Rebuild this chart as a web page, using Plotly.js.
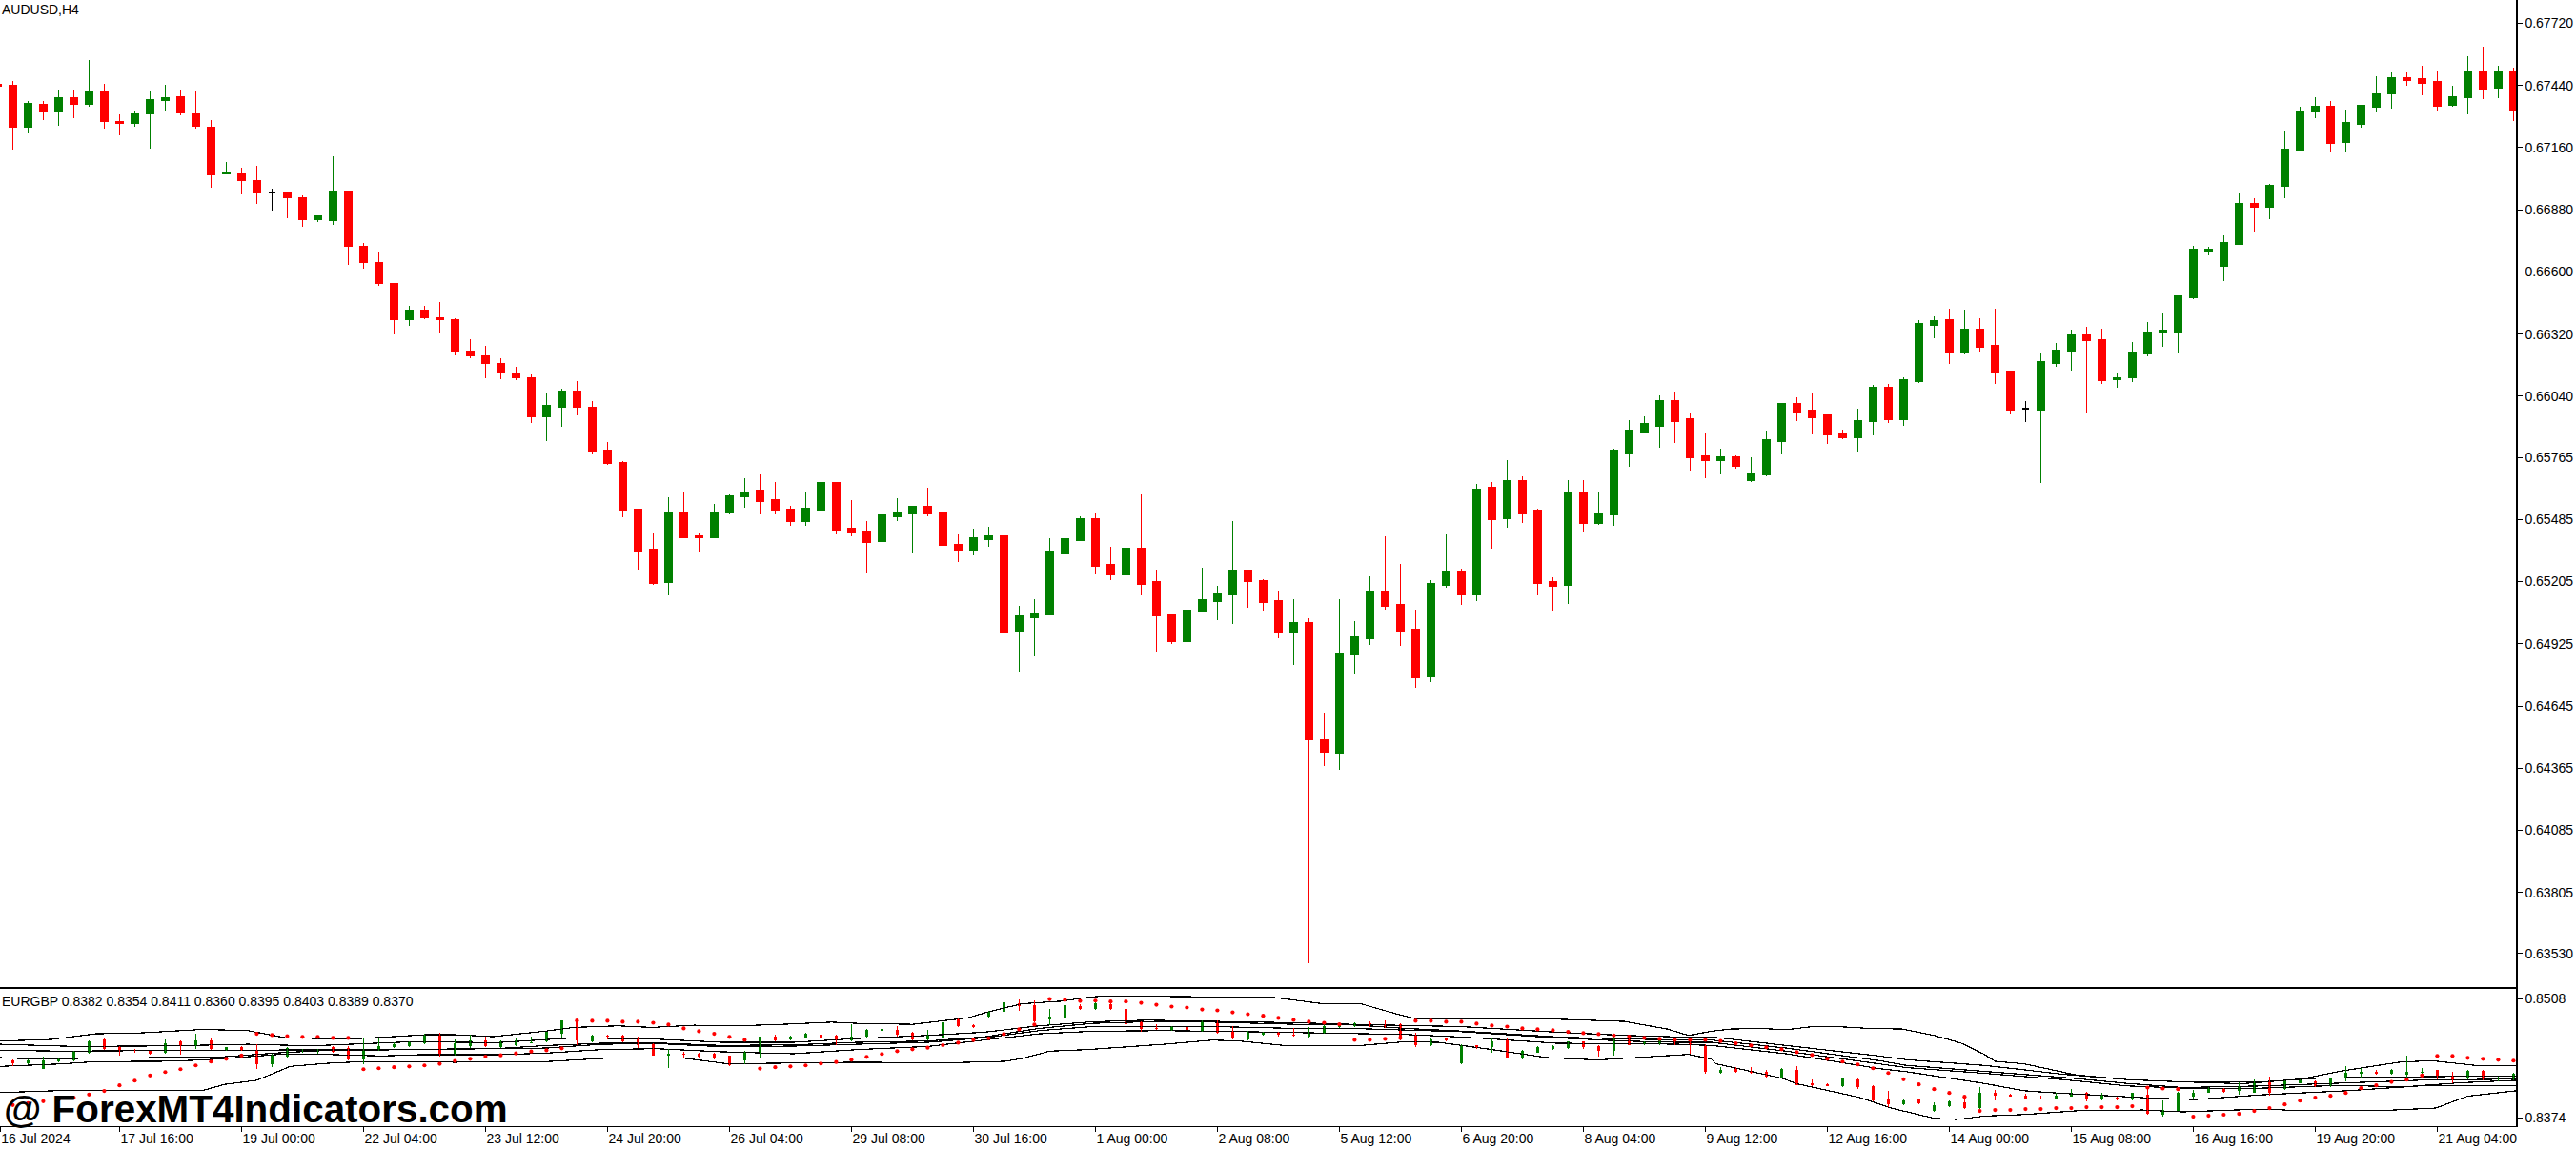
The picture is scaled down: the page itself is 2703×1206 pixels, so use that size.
<!DOCTYPE html>
<html><head><meta charset="utf-8">
<script src="https://cdn.plot.ly/plotly-3.0.1.min.js"></script>
<style>html,body{margin:0;padding:0;background:#fff}#chart{width:2703px;height:1206px}
#chart .scatterlayer .lines path,#chart .boxlayer path,#chart .barlayer path,#chart .ohlclayer path{shape-rendering:crispEdges}</style>
</head><body><div id="chart"></div>
<script>
// AUDUSD H4 candles, bar index -1 .. 164 (R = down, G = up, X = doji)
const mainDirection = "R"+"RGRGRGRRGG"+"GRRRGRRXRR"+"GGRRRRGRRR"+"RRRRRGGRRR"+"RRRGRRGGGR"+"RRGGRRRGGG"+"RRRGGRGGGG"+"GRRGRRRGGG"+"GRRRGRRGGG"+"RRRGGRGRGR"+"RRGRGGGGGR"+"RRGRGGGRRR"+"RGGRGGGRGR"+"RRXGGGRRGG"+"GGGGGGGRGG"+"GGRGGGGRRR"+"GGRGR";
const mainHigh = [.67447,.67460,.67370,.67370,.67422,.67422,.67555,.67446,.67309,.67322,.67412,.67442,.67420,.67412,.67283,.67094,.67068,.67077,.66974,.66961,.66944,.66854,.67121,.66965,.66731,.66686,.66549,.66446,.66446,.66463,.66390,.66296,.66266,.66210,.66171,.66138,.66052,.66074,.66108,.66018,.65834,.65748,.65529,.65426,.65585,.65610,.65426,.65555,.65597,.65670,.65688,.65653,.65546,.65610,.65688,.65653,.65572,.65477,.65516,.65580,.65546,.65628,.65576,.65417,.65443,.65452,.65430,.65095,.65125,.65400,.65563,.65499,.65516,.65361,.65379,.65602,.65258,.65057,.65121,.65267,.65185,.65477,.65258,.65215,.65164,.65125,.65040,.64615,.65125,.65027,.65228,.65409,.65284,.65078,.65211,.65421,.65263,.65645,.65653,.65752,.65679,.65533,.65224,.65662,.65662,.65610,.65803,.65932,.65949,.66044,.66061,.65967,.65872,.65803,.65773,.65765,.65885,.66010,.66035,.66057,.65954,.65889,.65984,.66091,.66095,.66125,.66383,.66400,.66434,.66430,.66391,.66434,.66155,.66018,.66237,.66280,.66340,.66353,.66344,.66143,.66284,.66374,.66413,.66494,.66718,.66713,.66765,.66954,.66932,.66997,.67233,.67344,.67387,.67370,.67331,.67353,.67482,.67499,.67499,.67529,.67503,.67439,.67572,.67615,.67529,.67520];
const mainBodyTop = [.67443,.67442,.67360,.67356,.67386,.67386,.67416,.67416,.67279,.67313,.67377,.67386,.67390,.67313,.67253,.67047,.67043,.67013,.66957,.66957,.66935,.66854,.66965,.66965,.66716,.66643,.66549,.66429,.66429,.66394,.66386,.66244,.66223,.66188,.66141,.66125,.65997,.66061,.66061,.65992,.65799,.65743,.65529,.65349,.65516,.65516,.65409,.65520,.65593,.65610,.65615,.65572,.65529,.65537,.65653,.65653,.65443,.65434,.65503,.65516,.65542,.65542,.65520,.65374,.65400,.65409,.65409,.65048,.65065,.65340,.65396,.65490,.65490,.65284,.65353,.65353,.65203,.65057,.65078,.65121,.65151,.65258,.65258,.65211,.65117,.65022,.65022,.64494,.64881,.64954,.65160,.65160,.65100,.64992,.65194,.65250,.65250,.65623,.65628,.65658,.65658,.65525,.65203,.65606,.65610,.65512,.65795,.65885,.65915,.66018,.66018,.65937,.65769,.65765,.65765,.65692,.65842,.66005,.66005,.65975,.65954,.65872,.65932,.66078,.66078,.66113,.66366,.66379,.66383,.66340,.66340,.66267,.66155,.65984,.66194,.66246,.66314,.66314,.66293,.66125,.66237,.66331,.66336,.66494,.66701,.66701,.66731,.66907,.66907,.66992,.67151,.67323,.67344,.67344,.67271,.67349,.67404,.67473,.67473,.67469,.67456,.67391,.67503,.67503,.67503,.67503];
const mainBodyBottom = [.67439,.67251,.67251,.67320,.67320,.67354,.67354,.67277,.67268,.67268,.67311,.67371,.67316,.67255,.67037,.67041,.67011,.66955,.66957,.66934,.66835,.66835,.66831,.66715,.66642,.66547,.66384,.66384,.66393,.66384,.66243,.66221,.66187,.66144,.66122,.65949,.65949,.65992,.65992,.65795,.65739,.65529,.65344,.65198,.65203,.65404,.65404,.65404,.65520,.65589,.65567,.65529,.65477,.65477,.65529,.65439,.65430,.65383,.65387,.65499,.65512,.65516,.65370,.65349,.65349,.65396,.64979,.64984,.65044,.65061,.65336,.65391,.65276,.65237,.65237,.65194,.65052,.64937,.64937,.65074,.65117,.65147,.65207,.65113,.64979,.64979,.64494,.64439,.64434,.64876,.64949,.65095,.64984,.64773,.64778,.65190,.65147,.65147,.65486,.65490,.65516,.65198,.65185,.65190,.65469,.65469,.65507,.65786,.65881,.65907,.65928,.65765,.65752,.65752,.65726,.65662,.65688,.65838,.65971,.65945,.65868,.65855,.65855,.65928,.65937,.65937,.66108,.66361,.66237,.66237,.66263,.66151,.65979,.65984,.65979,.66190,.66246,.66293,.66113,.66117,.66125,.66233,.66327,.66331,.66486,.66696,.66628,.66726,.66894,.66894,.66988,.67147,.67323,.67181,.67186,.67267,.67344,.67404,.67464,.67452,.67349,.67353,.67387,.67426,.67430,.67327];
const mainLow = [.67439,.67152,.67225,.67285,.67260,.67294,.67346,.67247,.67217,.67255,.67157,.67328,.67307,.67247,.66981,.67041,.66951,.66908,.66878,.66843,.66805,.66826,.66813,.66633,.66616,.66539,.66320,.66358,.66388,.66328,.66225,.66213,.66122,.66118,.66114,.65919,.65838,.65902,.65954,.65778,.65731,.65494,.65258,.65190,.65143,.65404,.65340,.65404,.65512,.65537,.65507,.65512,.65456,.65456,.65507,.65417,.65409,.65246,.65357,.65477,.65336,.65499,.65370,.65293,.65323,.65361,.64829,.64799,.64868,.65061,.65164,.65387,.65241,.65211,.65143,.65143,.64889,.64924,.64868,.65070,.65031,.65014,.65087,.65074,.64949,.64829,.63487,.64374,.64357,.64791,.64919,.65078,.64915,.64726,.64752,.65177,.65100,.65117,.65353,.65447,.65469,.65143,.65074,.65104,.65430,.65460,.65456,.65722,.65872,.65808,.65829,.65705,.65670,.65688,.65713,.65653,.65679,.65778,.65928,.65868,.65825,.65846,.65791,.65864,.65919,.65906,.66100,.66301,.66185,.66228,.66241,.66095,.65958,.65924,.65649,.66173,.66155,.65962,.66095,.66078,.66104,.66220,.66263,.66233,.66477,.66675,.66559,.66726,.66778,.66838,.66932,.67143,.67293,.67138,.67138,.67250,.67319,.67336,.67439,.67396,.67323,.67344,.67310,.67379,.67383,.67280];

// EURGBP sub-window, bar index 0 .. 164
const subDirection = "RGGGGGRRRR"+"GRGRGRRGGG"+"GRRGGGGGRG"+"GRGGGGGRGR"+"RRRGRRRRGG"+"RGGRRGGGRR"+"GGRRGGRRGG"+"RGRRRRGRGR"+"RGGRRGGGGR"+"RRRGRGRGRG"+"GGGRRGRGGR"+"RRGRRRGRRR"+"GRRRGRGGRG"+"RRRRGGRGRG"+"RGGGGRGGRG"+"GRGGGRGGGR"+"RGRGG";
const subHigh = [.84398,.84401,.84426,.84419,.84498,.84612,.84641,.84544,.84512,.84498,.84627,.84609,.84687,.84644,.84541,.84548,.84569,.84462,.84534,.84516,.84516,.84548,.84551,.84644,.84641,.84591,.84598,.84687,.84698,.84627,.84677,.84655,.84612,.84630,.84655,.84712,.84841,.84848,.84677,.84680,.84677,.84652,.84577,.84516,.84484,.84473,.84473,.84444,.84491,.84659,.84677,.84666,.84698,.84694,.84677,.84794,.84741,.84759,.84769,.84712,.84730,.84877,.84855,.84794,.84948,.85055,.85080,.85062,.84973,.85027,.85027,.85055,.85052,.84984,.84830,.84794,.84777,.84784,.84841,.84841,.84769,.84719,.84705,.84705,.84748,.84759,.84812,.84794,.84812,.84830,.84841,.84802,.84698,.84641,.84641,.84566,.84562,.84641,.84634,.84509,.84551,.84562,.84605,.84605,.84562,.84652,.84669,.84598,.84641,.84627,.84634,.84569,.84312,.84312,.84312,.84284,.84301,.84323,.84169,.84133,.84194,.84187,.84105,.84044,.83941,.83948,.83912,.83937,.83991,.84080,.84055,.84008,.84008,.83991,.84026,.84062,.84033,.84026,.83980,.84026,.84062,.83937,.84033,.84051,.84080,.84076,.84141,.84169,.84205,.84162,.84176,.84162,.84198,.84319,.84305,.84276,.84291,.84437,.84305,.84284,.84259,.84284,.84284,.84205,.84248];
const subBodyTop = [.84384,.84384,.84384,.84401,.84484,.84605,.84627,.84537,.84501,.84491,.84580,.84605,.84616,.84616,.84534,.84534,.84509,.84448,.84526,.84505,.84505,.84534,.84526,.84516,.84544,.84569,.84587,.84680,.84680,.84577,.84612,.84616,.84598,.84612,.84591,.84709,.84837,.84841,.84669,.84669,.84669,.84627,.84569,.84462,.84466,.84462,.84459,.84437,.84473,.84652,.84659,.84659,.84687,.84680,.84662,.84659,.84730,.84741,.84734,.84694,.84669,.84819,.84848,.84787,.84934,.85048,.85034,.85009,.84884,.85009,.85005,.85034,.85027,.84973,.84812,.84755,.84769,.84777,.84823,.84827,.84705,.84705,.84698,.84698,.84680,.84712,.84777,.84787,.84802,.84802,.84798,.84791,.84669,.84627,.84630,.84559,.84555,.84605,.84627,.84491,.84537,.84544,.84598,.84598,.84551,.84627,.84627,.84591,.84616,.84619,.84580,.84562,.84284,.84291,.84269,.84255,.84294,.84276,.84133,.84123,.84187,.84176,.84091,.83948,.83930,.83941,.83876,.83926,.83912,.84019,.84026,.84001,.83991,.83976,.83991,.84023,.84023,.83991,.83969,.84016,.83998,.83826,.84026,.84019,.84069,.84062,.84091,.84151,.84151,.84151,.84158,.84151,.84194,.84248,.84255,.84259,.84276,.84259,.84262,.84276,.84212,.84269,.84269,.84187,.84241];
const subBodyBottom = [.84355,.84355,.84294,.84373,.84391,.84473,.84516,.84491,.84491,.84462,.84473,.84555,.84562,.84516,.84505,.84505,.84348,.84348,.84426,.84484,.84480,.84484,.84401,.84401,.84509,.84534,.84548,.84577,.84455,.84455,.84551,.84544,.84541,.84562,.84584,.84598,.84687,.84616,.84598,.84652,.84605,.84555,.84437,.84437,.84455,.84434,.84419,.84337,.84384,.84473,.84616,.84627,.84641,.84644,.84616,.84616,.84655,.84716,.84677,.84627,.84623,.84641,.84777,.84759,.84884,.84941,.84998,.84830,.84848,.84855,.84973,.84973,.84973,.84794,.84741,.84741,.84727,.84719,.84712,.84698,.84634,.84627,.84677,.84677,.84669,.84655,.84698,.84759,.84777,.84769,.84769,.84641,.84562,.84555,.84612,.84355,.84534,.84534,.84419,.84419,.84476,.84516,.84526,.84534,.84491,.84498,.84562,.84569,.84569,.84569,.84569,.84255,.84248,.84255,.84248,.84205,.84198,.84112,.84108,.84098,.84098,.84080,.83937,.83894,.83890,.83905,.83819,.83869,.83848,.83848,.83991,.83980,.83955,.83973,.83948,.83980,.83948,.83948,.83944,.83948,.83783,.83769,.83815,.83983,.84019,.84033,.84041,.84026,.84019,.84069,.84133,.84098,.84098,.84183,.84241,.84234,.84234,.84223,.84248,.84212,.84169,.84183,.84169,.84176,.84169];
const subLow = [.84326,.84348,.84287,.84366,.84376,.84462,.84501,.84437,.84473,.84448,.84462,.84448,.84516,.84509,.84498,.84491,.84291,.84312,.84419,.84473,.84466,.84473,.84384,.84348,.84491,.84526,.84541,.84569,.84434,.84441,.84526,.84534,.84526,.84544,.84584,.84591,.84634,.84555,.84591,.84627,.84591,.84526,.84437,.84305,.84419,.84412,.84401,.84319,.84348,.84419,.84598,.84612,.84634,.84605,.84562,.84605,.84641,.84712,.84652,.84612,.84612,.84627,.84759,.84748,.84873,.84927,.84948,.84812,.84784,.84841,.84955,.84962,.84955,.84787,.84712,.84727,.84719,.84712,.84712,.84687,.84623,.84616,.84662,.84655,.84652,.84641,.84687,.84748,.84766,.84759,.84748,.84616,.84537,.84544,.84598,.84341,.84519,.84473,.84409,.84398,.84469,.84505,.84516,.84519,.84426,.84437,.84555,.84555,.84562,.84555,.84462,.84241,.84241,.84248,.84241,.84183,.84187,.84105,.84091,.84091,.84087,.84069,.83926,.83855,.83876,.83890,.83808,.83862,.83840,.83837,.83937,.83973,.83948,.83948,.83941,.83973,.83926,.83937,.83937,.83937,.83769,.83755,.83812,.83955,.84016,.84019,.83998,.84016,.83991,.84055,.84126,.84087,.84087,.84148,.84183,.84223,.84223,.84151,.84234,.84169,.84133,.84169,.84162,.84151,.84162];
const subDots = [.83883,.83905,.83926,.83944,.83966,.84001,.84041,.84105,.84158,.84216,.84255,.84287,.84330,.84373,.84405,.84441,.84687,.84673,.84659,.84652,.84652,.84641,.84641,.84287,.84298,.84309,.84319,.84330,.84348,.84380,.84405,.84430,.84444,.84466,.84487,.84501,.84523,.84837,.84834,.84834,.84823,.84823,.84812,.84791,.84748,.84716,.84687,.84652,.84619,.84294,.84309,.84319,.84330,.84351,.84369,.84394,.84426,.84459,.84491,.84512,.84530,.84559,.84587,.84616,.84637,.84684,.84737,.84791,.85080,.85070,.85059,.85062,.85052,.85052,.85037,.85016,.84995,.84984,.84962,.84952,.84930,.84909,.84891,.84866,.84844,.84823,.84812,.84794,.84619,.84619,.84630,.84641,.84834,.84834,.84823,.84823,.84802,.84780,.84769,.84748,.84737,.84727,.84709,.84694,.84684,.84669,.84655,.84641,.84630,.84619,.84619,.84619,.84605,.84580,.84555,.84534,.84512,.84480,.84448,.84405,.84373,.84341,.84298,.84244,.84173,.84116,.84062,.84019,.83976,.83815,.83826,.83826,.83837,.83837,.83848,.83848,.83858,.83858,.83858,.83869,.84080,.84069,.84062,.83751,.83762,.83773,.83783,.83815,.83848,.83890,.83933,.83966,.83987,.84019,.84073,.84105,.84144,.84169,.84216,.84437,.84437,.84416,.84405,.84394,.84384];

// Sub-window envelope lines: bar positions and levels read at their bends
const upperBandBar = [-0.84,2.5,5.4,8.5,12.5,15.4,17.1,17.9,22.1,27.1,29,31.5,35,36.8,39.7,41.9,44.7,47.6,50.5,53.7,55.4,59,62.6,64,66.2,68.7,70.8,71.9,74,82.7,85.9,88.4,90.6,92,94.9,101.3,105.7,108.5,109.9,111.4,112.7,114.5,116.3,118.1,119.6,121.7,123.9,126,127.8,129.3,130,131.9,135.3,138.7,142.3,146.2,150.1,152.7,156.5,158.6,161.5,164.2];
const upperBandLevel = [.84605,.84623,.84687,.84698,.84737,.84723,.84669,.84641,.84627,.84677,.84677,.84655,.84719,.84759,.84777,.84759,.84784,.84777,.84794,.84819,.84805,.84794,.84866,.84937,.85027,.85055,.85105,.85116,.85112,.85098,.85027,.85027,.84919,.84859,.84859,.84852,.84827,.84741,.84669,.84716,.84741,.84748,.84734,.84769,.84769,.84748,.84741,.84669,.84580,.84455,.84376,.84348,.84223,.84169,.84144,.84123,.84176,.84266,.84366,.84384,.84330,.84330];
const lowerBandBar = [-0.84,2.75,7,12.4,13.9,16,17.1,18.2,20.7,23,29,35,39,44,46.9,55.4,61.2,65.1,66.2,68,70.5,75.5,78.7,80.5,83.4,88.4,91.3,93.5,97,100.6,103.9,107.5,109.9,111.4,111.7,116,117,121,123.2,126,127.5,129.3,132,135.8,139.7,142.3,147.5,150,155.2,158.9,161,164.2];
const lowerBandLevel = [.84023,.84044,.84044,.84044,.84116,.84162,.84241,.84319,.84355,.84373,.84366,.84373,.84412,.84412,.84348,.84366,.84359,.84376,.84409,.84491,.84509,.84569,.84616,.84605,.84555,.84555,.84598,.84591,.84509,.84419,.84391,.84426,.84455,.84401,.84348,.84187,.84123,.83973,.83848,.83733,.83719,.83758,.83776,.83823,.83826,.83805,.83837,.83819,.83819,.83848,.83983,.84044];
const innerABar = [-0.84,.41,4.16,10.4,15.4,19.6,26.2,31.7,35,36.8,42.2,46.5,51.2,55.4,60,63.7,67.3,70.8,74.4,78.7,84.1,87.7,91.3,94.9,101.3,105.7,109.2,111.4,116.3,122.4,124.2,129.3,134.5,138.7,142.3,147.5,151.4,155.2,164.2];
const innerALevel = [.84569,.84562,.84544,.84551,.84569,.84551,.84598,.84587,.84627,.84641,.84627,.84591,.84591,.84634,.84669,.84705,.84777,.84823,.84841,.84830,.84812,.84794,.84784,.84769,.84705,.84669,.84652,.84652,.84555,.84437,.84394,.84330,.84230,.84169,.84144,.84144,.84187,.84198,.84212];
const innerBBar = [-0.84,3.3,9.6,13.7,20,24.2,31.7,35,38.6,42.2,46.5,51.2,55.4,60,63.7,67.3,70.8,74.4,78.7,84.1,87.7,91.3,94.9,101.3,105.7,109.2,111.4,116.3,122.4,124.2,129.3,134.5,138.7,142.3,147.5,152.7,157.8,164.2];
const innerBLevel = [.84501,.84491,.84498,.84501,.84498,.84509,.84519,.84555,.84580,.84584,.84555,.84562,.84591,.84605,.84652,.84748,.84805,.84823,.84819,.84794,.84791,.84748,.84719,.84652,.84627,.84616,.84616,.84526,.84384,.84330,.84266,.84194,.84126,.84080,.84098,.84133,.84162,.84176];
const innerCBar = [-0.84,1.2,5.4,9.6,13.7,17.5,20.4,26.2,31.7,35,38.6,42.2,46.5,51.2,55.4,60,63.7,67.3,70.8,78.7,84.1,87.7,91.3,94.9,101.3,105.7,109.2,111.4,116.3,122.4,124.2,129.3,134.5,138.7,142.3,147.5,152.7,156.8,160.4,164.2];
const innerCLevel = [.84419,.84401,.84412,.84419,.84426,.84473,.84498,.84509,.84519,.84526,.84569,.84577,.84541,.84548,.84569,.84591,.84641,.84723,.84769,.84769,.84748,.84748,.84730,.84712,.84641,.84605,.84591,.84591,.84491,.84348,.84305,.84241,.84169,.84098,.84073,.84073,.84105,.84087,.84133,.84162];
const innerDBar = [-0.84,3.3,5.4,9.6,12.5,15,17.5,20.4,24.2,26.7,31.7,35,38.6,42.2,46.5,51.2,55.4,60,63.7,67.3,70.8,75.5,80.5,85.9,91.3,94.9,101.3,105.7,109.2,111.4,116.3,122.4,124.2,129.3,131.9,134,139.7,143.1,147.5,153.1,157.8,164.2];
const innerDLevel = [.84319,.84348,.84373,.84376,.84391,.84426,.84455,.84455,.84437,.84451,.84451,.84469,.84509,.84519,.84484,.84462,.84509,.84544,.84616,.84687,.84716,.84723,.84712,.84694,.84680,.84652,.84580,.84577,.84569,.84555,.84462,.84294,.84259,.84126,.84044,.84019,.83966,.83944,.83998,.84044,.84098,.84105];

// Axis labels
const priceTickValues = [.67720,.67440,.67160,.66880,.66600,.66320,.66040,.65765,.65485,.65205,.64925,.64645,.64365,.64085,.63805,.63530];
const priceTickLabels = ["0.67720","0.67440","0.67160","0.66880","0.66600","0.66320","0.66040","0.65765","0.65485","0.65205","0.64925","0.64645","0.64365","0.64085","0.63805","0.63530"];
const subTickValues = [.8508,.8374];
const subTickLabels = ["0.8508","0.8374"];
const dateLabels = ["16 Jul 2024","17 Jul 16:00","19 Jul 00:00","22 Jul 04:00","23 Jul 12:00","24 Jul 20:00","26 Jul 04:00","29 Jul 08:00","30 Jul 16:00","1 Aug 00:00","2 Aug 08:00","5 Aug 12:00","6 Aug 20:00","8 Aug 04:00","9 Aug 12:00","12 Aug 16:00","14 Aug 00:00","15 Aug 08:00","16 Aug 16:00","19 Aug 20:00","21 Aug 04:00"];
// The first label's bar (-1) sits just off the left edge, so its tick is held at the edge.
const dateTickBars = dateLabels.map((_, k) => k === 0 ? -0.83 : -1 + 8 * k);

const GREEN = '#008000', RED = '#ff0000';
const W = 2703, H = 1206;
const FONT = '"Liberation Sans", Arial, sans-serif';

const mainX = Array.from(mainHigh, (_, k) => k - 1);
const mainOpen = mainX.map((_, k) => mainDirection[k] === 'G' ? mainBodyBottom[k] : mainBodyTop[k]);
const mainClose = mainX.map((_, k) => mainDirection[k] === 'G' ? mainBodyTop[k] : mainBodyBottom[k]);
const notDoji = a => a.map((v, k) => mainDirection[k] === 'X' ? null : v);
const onlyDoji = a => a.map((v, k) => mainDirection[k] === 'X' ? v : null);

const candleStyle = (up, down) => ({
  increasing: {line: {color: up, width: 1.2}, fillcolor: up},
  decreasing: {line: {color: down, width: 1.2}, fillcolor: down},
  whiskerwidth: 0, hoverinfo: 'skip', showlegend: false
});

const subX = Array.from(subHigh, (_, k) => k);
function wickTrace(code, color) {
  const xs = [], ys = [];
  subX.forEach(k => {
    if (subDirection[k] === code) { xs.push(k, k, null); ys.push(subLow[k], subHigh[k], null); }
  });
  return {type: 'scatter', mode: 'lines', x: xs, y: ys, xaxis: 'x2', yaxis: 'y2',
          line: {color, width: 1.1}, hoverinfo: 'skip', showlegend: false, connectgaps: false};
}
const bandTrace = (x, y) => ({type: 'scatter', mode: 'lines', x, y, xaxis: 'x2', yaxis: 'y2',
  line: {color: '#000', width: 1.2}, hoverinfo: 'skip', showlegend: false});

const data = [
  Object.assign({type: 'candlestick', x: mainX, open: notDoji(mainOpen), high: notDoji(mainHigh), low: notDoji(mainLow), close: notDoji(mainClose), xaxis: 'x', yaxis: 'y'}, candleStyle(GREEN, RED)),
  Object.assign({type: 'candlestick', x: mainX, open: onlyDoji(mainOpen), high: onlyDoji(mainHigh), low: onlyDoji(mainLow), close: onlyDoji(mainClose), xaxis: 'x', yaxis: 'y'}, candleStyle('#000', '#000')),
  {type: 'bar', x: subX, y: subX.map(k => subBodyTop[k] - subBodyBottom[k]), base: subBodyBottom, width: 0.2,
   marker: {color: subX.map(k => subDirection[k] === 'G' ? GREEN : RED), line: {width: 0}},
   xaxis: 'x2', yaxis: 'y2', hoverinfo: 'skip', showlegend: false},
  bandTrace(upperBandBar, upperBandLevel), bandTrace(lowerBandBar, lowerBandLevel),
  bandTrace(innerABar, innerALevel), bandTrace(innerBBar, innerBLevel),
  bandTrace(innerCBar, innerCLevel), bandTrace(innerDBar, innerDLevel),
  wickTrace('G', GREEN), wickTrace('R', RED),
  {type: 'scatter', mode: 'markers', x: subX, y: subDots, xaxis: 'x2', yaxis: 'y2',
   marker: {color: RED, size: 4.2, line: {width: 0}}, hoverinfo: 'skip', showlegend: false}
];

const xRange = [-0.8375, 164.1625];
const xCommon = {range: xRange, domain: [0, 2640 / W], showgrid: false, zeroline: false,
  showline: true, linecolor: '#000', linewidth: 1.3, rangeslider: {visible: false}, fixedrange: true};
const yCommon = {side: 'right', showgrid: false, zeroline: false, showline: true, linecolor: '#000', linewidth: 1.6,
  ticks: 'outside', ticklen: 5, tickwidth: 1, tickcolor: '#000',
  tickfont: {family: FONT, size: 14, color: '#000'}, tickmode: 'array', fixedrange: true};

const note = (text, px, py, size, bold) => ({
  text: bold ? '<b>' + text + '</b>' : text, xref: 'paper', yref: 'paper', x: px / W, y: 1 - py / H,
  xanchor: 'left', yanchor: 'middle', showarrow: false, borderpad: 0, align: 'left',
  font: {family: FONT, size, color: '#000'}
});

const layout = {
  width: W, height: H, margin: {l: 0, r: 0, t: 0, b: 0, autoexpand: false},
  paper_bgcolor: '#fff', plot_bgcolor: '#fff', showlegend: false,
  boxmode: 'overlay', boxgap: 0.33, barmode: 'overlay', hovermode: false,
  xaxis: Object.assign({}, xCommon, {anchor: 'y', showticklabels: false, ticks: ''}),
  yaxis: Object.assign({}, yCommon, {anchor: 'x', domain: [1 - 1036 / H, 1], range: [0.63379, 0.67825],
    tickvals: priceTickValues, ticktext: priceTickLabels}),
  xaxis2: Object.assign({}, xCommon, {anchor: 'y2', mirror: true, ticks: 'outside', ticklen: 5, tickwidth: 1, tickcolor: '#000',
    tickmode: 'array', tickvals: dateTickBars, ticktext: dateLabels, ticklabelposition: 'outside right', tickangle: 0,
    tickfont: {family: FONT, size: 14, color: '#000'}}),
  yaxis2: Object.assign({}, yCommon, {anchor: 'x2', domain: [1 - 1182 / H, 1 - 1038 / H], range: [0.83644, 0.85194],
    tickvals: subTickValues, ticktext: subTickLabels}),
  annotations: [
    note('AUDUSD,H4', 1, 10, 14, false),
    note('EURGBP 0.8382 0.8354 0.8411 0.8360 0.8395 0.8403 0.8389 0.8370', 1, 1051, 14, false),
    note('@ ForexMT4Indicators.com', 3, 1164, 40.4, true)
  ]
};
Plotly.newPlot('chart', data, layout, {displayModeBar: false, staticPlot: true});
</script></body></html>
